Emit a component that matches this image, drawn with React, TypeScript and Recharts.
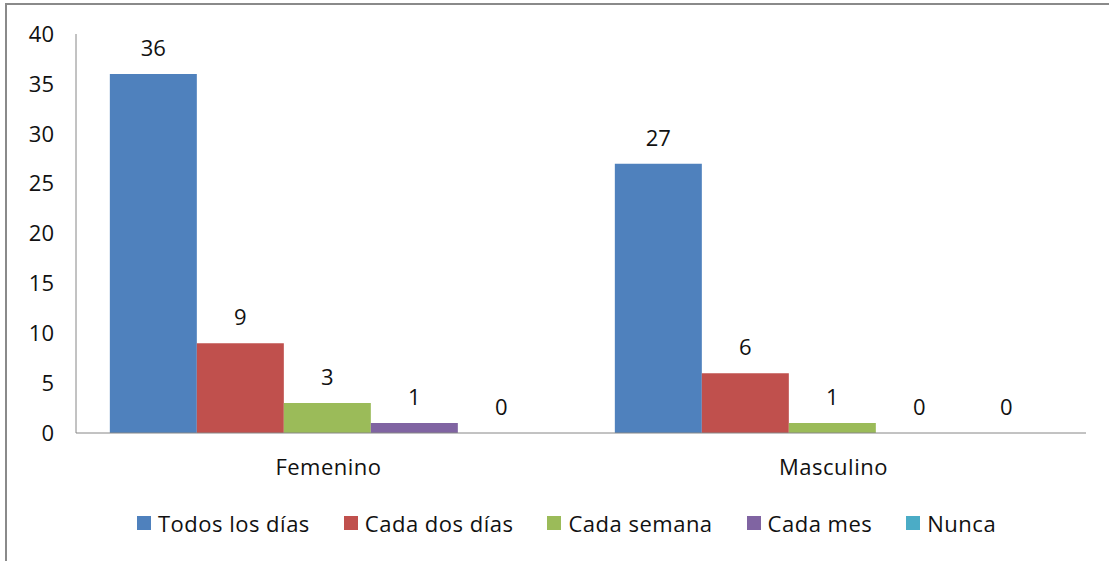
import React from 'react';
import { BarChart, Bar, XAxis, YAxis, Legend, LabelList } from 'recharts';

const categories = ['Femenino', 'Masculino'];
const todosLosDias = [36, 27];
const cadaDosDias = [9, 6];
const cadaSemana = [3, 1];
const cadaMes = [1, 0];
const nunca = [0, 0];
const yTicks = [0, 5, 10, 15, 20, 25, 30, 35, 40];

const series = [
  { key: 'todos', name: 'Todos los días', color: '#4F81BD', values: todosLosDias },
  { key: 'dos', name: 'Cada dos días', color: '#C0504D', values: cadaDosDias },
  { key: 'semana', name: 'Cada semana', color: '#9BBB59', values: cadaSemana },
  { key: 'mes', name: 'Cada mes', color: '#8064A2', values: cadaMes },
  { key: 'nunca', name: 'Nunca', color: '#4BACC6', values: nunca },
];

const data = categories.map((name, i) => {
  const row: Record<string, string | number> = { name };
  series.forEach((s) => {
    row[s.key] = s.values[i];
  });
  return row;
});

const FONT = '"Open Sans", sans-serif';
const FONT_SIZE = 22;
const AXIS_COLOR = '#868686';
const TEXT_COLOR = '#111';

const renderLegend = () => (
  <div
    style={{
      display: 'flex',
      justifyContent: 'center',
      alignItems: 'center',
      paddingLeft: 47,
      fontFamily: FONT,
      fontSize: FONT_SIZE,
      color: TEXT_COLOR,
      height: 30,
    }}
  >
    {series.map((s, i) => (
      <div key={s.key} style={{ display: 'flex', alignItems: 'center', marginRight: i < series.length - 1 ? 34 : 0 }}>
        <span style={{ width: 14, height: 14, background: s.color, display: 'inline-block', marginRight: 7 }} />
        <span style={{ letterSpacing: 0.5 }}>{s.name}</span>
      </div>
    ))}
  </div>
);

// etiqueta encima de cada barra (también para los valores 0)
const renderValue = (props: any) => {
  const { x, y, width, value } = props;
  return (
    <text
      x={Number(x) + Number(width) / 2}
      y={Number(y) - 18}
      textAnchor="middle"
      fill={TEXT_COLOR}
      fontSize={FONT_SIZE}
      fontFamily={FONT}
    >
      {value}
    </text>
  );
};

export default function App() {
  return (
    <div style={{ position: 'absolute', left: 0, top: 0, width: 1109, height: 561, overflow: 'hidden', background: '#fff' }}>
      {/* marco del gráfico */}
      <div
        style={{
          position: 'absolute',
          left: 5,
          top: 3,
          width: 1300,
          height: 700,
          border: '2px solid #8a8a8a',
        }}
      />
      <div style={{ position: 'absolute', left: 0, top: 0 }}>
        <BarChart
          width={1109}
          height={561}
          data={data}
          margin={{ top: 34, right: 23, bottom: 23, left: 0 }}
          barCategoryGap="6.7%"
          barGap={0}
        >
          <XAxis
            dataKey="name"
            axisLine={{ stroke: AXIS_COLOR }}
            tickLine={false}
            tickMargin={20}
            height={75}
            tick={{ fill: TEXT_COLOR, fontSize: FONT_SIZE, fontFamily: FONT, letterSpacing: 0.5 }}
          />
          <YAxis
            domain={[0, 40]}
            ticks={yTicks}
            width={76}
            axisLine={{ stroke: AXIS_COLOR }}
            tickLine={false}
            tickMargin={16}
            tick={{ fill: TEXT_COLOR, fontSize: FONT_SIZE, fontFamily: FONT }}
          />
          <Legend verticalAlign="bottom" height={30} content={renderLegend} />
          {series.map((s) => (
            <Bar
              key={s.key}
              dataKey={s.key}
              name={s.name}
              fill={s.color}
              minPointSize={0.01}
              isAnimationActive={false}
            >
              <LabelList dataKey={s.key} content={renderValue} />
            </Bar>
          ))}
        </BarChart>
      </div>
    </div>
  );
}
